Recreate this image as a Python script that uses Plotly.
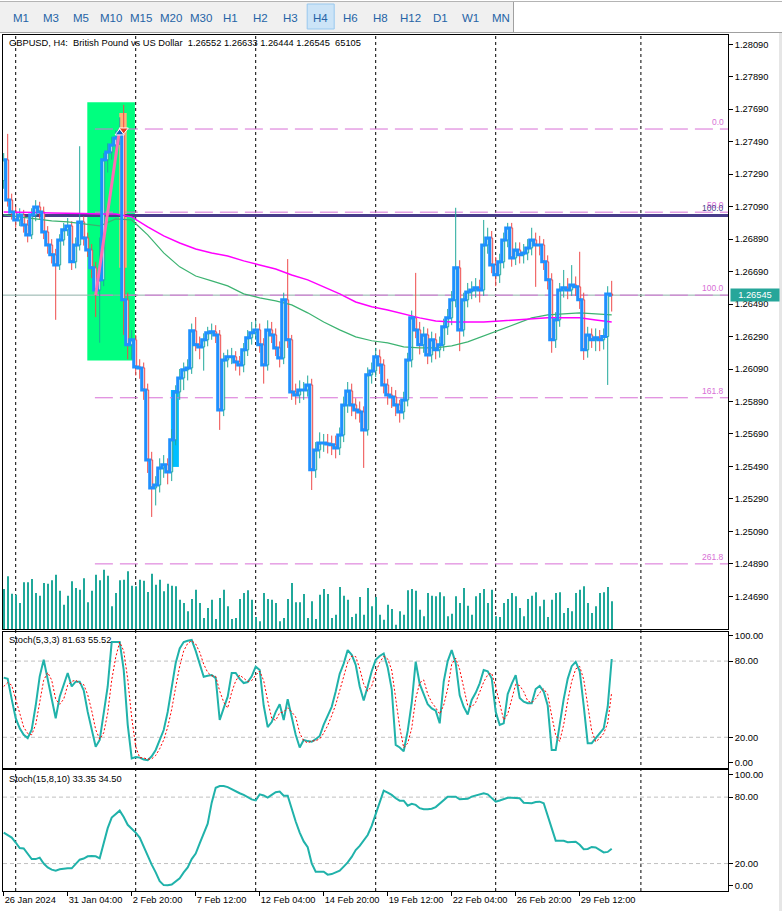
import plotly.graph_objects as go

# ---------------- data ----------------
symbol_title = "GBPUSD, H4:  British Pound vs US Dollar  1.26552 1.26633 1.26444 1.26545  65105"
stoch1_title = "Stoch(5,3,3) 81.63 55.52"
stoch2_title = "Stoch(15,8,10) 33.35 34.50"
timeframes = ["M1", "M3", "M5", "M10", "M15", "M20", "M30", "H1", "H2", "H3",
              "H4", "H6", "H8", "H12", "D1", "W1", "MN"]
active_tf = "H4"

open_ = [
    1.27250, 1.27378, 1.27131, 1.27057, 1.27008, 1.27039, 1.26977, 1.26916, 1.27039, 1.27088,
    1.27057, 1.26934, 1.26854, 1.26793, 1.26731, 1.26885, 1.26947, 1.26971, 1.26750, 1.26854,
    1.26996, 1.26897, 1.26823, 1.26713, 1.26577, 1.26639, 1.27378, 1.27427, 1.27470, 1.27513,
    1.27544, 1.26516, 1.26239, 1.26270, 1.26103, 1.26097, 1.25961, 1.25530, 1.25358, 1.25376,
    1.25481, 1.25500, 1.25456, 1.25654, 1.25949, 1.26035, 1.26085, 1.26097, 1.26325, 1.26239,
    1.26226, 1.26270, 1.26313, 1.26319, 1.26300, 1.25838, 1.26146, 1.26165, 1.26165, 1.26134,
    1.26115, 1.26208, 1.26282, 1.26313, 1.26331, 1.26239, 1.26115, 1.26331, 1.26300, 1.26220,
    1.26158, 1.26516, 1.26270, 1.25949, 1.25930, 1.25961, 1.25961, 1.25992, 1.25469, 1.25592,
    1.25635, 1.25635, 1.25629, 1.25623, 1.25604, 1.25684, 1.25869, 1.25955, 1.25869, 1.25838,
    1.25826, 1.25715, 1.26054, 1.26078, 1.26165, 1.26115, 1.25992, 1.25930, 1.25918, 1.25869,
    1.25826, 1.25900, 1.26146, 1.26405, 1.26331, 1.26239, 1.26300, 1.26177, 1.26270, 1.26208,
    1.26239, 1.26350, 1.26405, 1.26516, 1.26713, 1.26331, 1.26516, 1.26565, 1.26577, 1.26590,
    1.26577, 1.26854, 1.26897, 1.26731, 1.26670, 1.26750, 1.26885, 1.26959, 1.26774, 1.26823,
    1.26793, 1.26805, 1.26836, 1.26885, 1.26854, 1.26854, 1.26750, 1.26639, 1.26270, 1.26393,
    1.26577, 1.26590, 1.26577, 1.26608, 1.26596, 1.26516, 1.26208, 1.26300, 1.26270, 1.26282,
    1.26270, 1.26290, 1.26552]

high = [
    1.27420, 1.27538, 1.27170, 1.27090, 1.27080, 1.27070, 1.27010, 1.27080, 1.27130, 1.27120,
    1.27090, 1.26970, 1.26890, 1.26830, 1.26920, 1.26990, 1.27020, 1.27000, 1.26900, 1.27462,
    1.27030, 1.26930, 1.26860, 1.26750, 1.26900, 1.27420, 1.27480, 1.27520, 1.27560, 1.27640,
    1.27717, 1.26560, 1.26330, 1.26300, 1.26150, 1.26130, 1.26000, 1.25580, 1.25430, 1.25540,
    1.25560, 1.25540, 1.25720, 1.25990, 1.26090, 1.26130, 1.26150, 1.26370, 1.26410, 1.26290,
    1.26310, 1.26350, 1.26370, 1.26360, 1.26330, 1.26190, 1.26210, 1.26220, 1.26200, 1.26170,
    1.26250, 1.26330, 1.26380, 1.26390, 1.26370, 1.26280, 1.26390, 1.26380, 1.26340, 1.26260,
    1.26560, 1.26767, 1.26300, 1.26000, 1.26020, 1.26010, 1.26050, 1.26030, 1.25640, 1.25700,
    1.25690, 1.25690, 1.25680, 1.25680, 1.25730, 1.25920, 1.26010, 1.26000, 1.25910, 1.25890,
    1.25860, 1.26100, 1.26130, 1.26220, 1.26210, 1.26150, 1.26030, 1.25980, 1.25960, 1.25900,
    1.25950, 1.26190, 1.26450, 1.26682, 1.26380, 1.26350, 1.26340, 1.26320, 1.26310, 1.26290,
    1.26400, 1.26460, 1.26570, 1.27083, 1.26760, 1.26560, 1.26620, 1.26630, 1.26650, 1.26640,
    1.27008, 1.26960, 1.26940, 1.26780, 1.26800, 1.26930, 1.26990, 1.26990, 1.26870, 1.26870,
    1.26860, 1.26890, 1.26960, 1.26930, 1.26910, 1.26890, 1.26790, 1.26680, 1.26440, 1.26620,
    1.26700, 1.26650, 1.26730, 1.26660, 1.26812, 1.26560, 1.26350, 1.26340, 1.26340, 1.26330,
    1.26340, 1.26600, 1.26633]

low = [
    1.27200, 1.27090, 1.27010, 1.26960, 1.26970, 1.26930, 1.26870, 1.26890, 1.27000, 1.27010,
    1.26890, 1.26800, 1.26740, 1.26393, 1.26700, 1.26850, 1.26910, 1.26700, 1.26710, 1.26820,
    1.26850, 1.26780, 1.26650, 1.26410, 1.26252, 1.26600, 1.27300, 1.27380, 1.27420, 1.27470,
    1.26300, 1.26150, 1.26150, 1.26050, 1.26030, 1.25900, 1.25450, 1.25179, 1.25250, 1.25330,
    1.25420, 1.25380, 1.25400, 1.25620, 1.25900, 1.25960, 1.26020, 1.26060, 1.26200, 1.26150,
    1.26080, 1.26230, 1.26270, 1.26250, 1.25715, 1.25800, 1.26100, 1.26120, 1.26080, 1.26050,
    1.26070, 1.26170, 1.26240, 1.26270, 1.26190, 1.26000, 1.26080, 1.26250, 1.26170, 1.26100,
    1.26120, 1.26220, 1.25900, 1.25870, 1.25880, 1.25900, 1.25920, 1.25345, 1.25420, 1.25540,
    1.25580, 1.25570, 1.25560, 1.25540, 1.25560, 1.25640, 1.25820, 1.25800, 1.25780, 1.25760,
    1.25481, 1.25680, 1.26000, 1.26040, 1.26060, 1.25940, 1.25870, 1.25850, 1.25800, 1.25760,
    1.25780, 1.25860, 1.26100, 1.26280, 1.26180, 1.26190, 1.26120, 1.26130, 1.26150, 1.26160,
    1.26200, 1.26300, 1.26360, 1.26470, 1.26200, 1.26290, 1.26470, 1.26520, 1.26530, 1.26500,
    1.26540, 1.26800, 1.26680, 1.26600, 1.26620, 1.26710, 1.26840, 1.26720, 1.26730, 1.26740,
    1.26740, 1.26760, 1.26790, 1.26596, 1.26790, 1.26700, 1.26580, 1.26190, 1.26220, 1.26350,
    1.26530, 1.26520, 1.26540, 1.26540, 1.26460, 1.26146, 1.26160, 1.26220, 1.26200, 1.26200,
    1.26210, 1.25992, 1.26444]

close = [
    1.27378, 1.27131, 1.27057, 1.27008, 1.27039, 1.26977, 1.26916, 1.27039, 1.27088, 1.27057,
    1.26934, 1.26854, 1.26793, 1.26731, 1.26885, 1.26947, 1.26971, 1.26750, 1.26854, 1.26996,
    1.26897, 1.26823, 1.26713, 1.26577, 1.26639, 1.27378, 1.27427, 1.27470, 1.27513, 1.27544,
    1.26516, 1.26239, 1.26270, 1.26103, 1.26097, 1.25961, 1.25530, 1.25358, 1.25376, 1.25481,
    1.25500, 1.25456, 1.25654, 1.25949, 1.26035, 1.26085, 1.26097, 1.26325, 1.26239, 1.26226,
    1.26270, 1.26313, 1.26319, 1.26300, 1.25838, 1.26146, 1.26165, 1.26165, 1.26134, 1.26115,
    1.26208, 1.26282, 1.26313, 1.26331, 1.26239, 1.26115, 1.26331, 1.26300, 1.26220, 1.26158,
    1.26516, 1.26270, 1.25949, 1.25930, 1.25961, 1.25961, 1.25992, 1.25469, 1.25592, 1.25635,
    1.25635, 1.25629, 1.25623, 1.25604, 1.25684, 1.25869, 1.25955, 1.25869, 1.25838, 1.25826,
    1.25715, 1.26054, 1.26078, 1.26165, 1.26115, 1.25992, 1.25930, 1.25918, 1.25869, 1.25826,
    1.25900, 1.26146, 1.26405, 1.26331, 1.26239, 1.26300, 1.26177, 1.26270, 1.26208, 1.26239,
    1.26350, 1.26405, 1.26516, 1.26713, 1.26331, 1.26516, 1.26565, 1.26577, 1.26590, 1.26577,
    1.26854, 1.26897, 1.26731, 1.26670, 1.26750, 1.26885, 1.26959, 1.26774, 1.26823, 1.26793,
    1.26805, 1.26836, 1.26885, 1.26854, 1.26854, 1.26750, 1.26639, 1.26270, 1.26393, 1.26577,
    1.26590, 1.26577, 1.26608, 1.26596, 1.26516, 1.26208, 1.26300, 1.26270, 1.26282, 1.26270,
    1.26290, 1.26552, 1.26545]

volume_k = [
    94.0, 123.8, 83.0, 80.6, 61.1, 109.7, 109.7, 117.5, 84.6, 78.3,
    108.1, 106.5, 114.4, 127.6, 90.0, 57.1, 78.3, 112.1, 96.4, 92.4,
    119.1, 62.7, 90.0, 127.6, 114.4, 139.4, 125.3, 53.3, 84.6, 114.4,
    115.9, 135.6, 101.8, 100.3, 115.9, 113.5, 87.0, 130.0, 104.1, 115.9,
    88.6, 106.5, 101.8, 100.3, 68.9, 61.1, 41.6, 70.5, 92.4, 61.1,
    25.9, 49.4, 68.9, 23.5, 72.9, 92.4, 53.3, 23.5, 25.9, 70.5,
    84.6, 90.9, 68.9, 28.2, 18.1, 84.6, 70.5, 68.9, 61.1, 18.1,
    25.9, 70.5, 108.1, 62.7, 62.7, 82.3, 25.9, 65.1, 23.5, 80.6,
    94.0, 82.3, 25.9, 33.6, 98.7, 78.3, 68.9, 28.2, 36.0, 75.2,
    33.6, 96.4, 53.3, 75.2, 33.6, 21.9, 57.1, 47.0, 10.1, 41.6,
    33.6, 90.9, 94.0, 90.0, 45.4, 29.8, 84.6, 78.3, 76.8, 86.2,
    76.8, 29.8, 36.0, 76.8, 61.1, 96.4, 54.8, 33.6, 76.8, 84.6,
    94.0, 61.1, 92.4, 29.8, 28.2, 61.1, 70.5, 84.6, 76.8, 49.4,
    29.8, 70.5, 78.3, 86.2, 53.3, 68.9, 28.2, 68.9, 84.6, 86.2,
    37.6, 49.4, 41.6, 84.6, 92.4, 100.3, 61.1, 37.6, 53.3, 84.6,
    86.2, 98.7, 65.1]

# moving averages sampled every 4th bar
ma_bars = [0, 4, 8, 12, 16, 20, 24, 28, 32, 36, 40, 44, 48, 52, 56, 60, 64, 68, 72, 76,
           80, 84, 88, 92, 96, 100, 104, 108, 112, 116, 120, 124, 128, 132, 136, 140, 144, 148, 152]
ma_slow = [1.27057, 1.27057, 1.27054, 1.27051, 1.27051, 1.27048, 1.27045, 1.27045, 1.27027, 1.26965,
           1.26910, 1.26866, 1.26829, 1.26805, 1.26786, 1.26756, 1.26731, 1.26706, 1.26669, 1.26639,
           1.26596, 1.26553, 1.26503, 1.26473, 1.26454, 1.26429, 1.26405, 1.26386, 1.26380, 1.26380,
           1.26380, 1.26386, 1.26392, 1.26398, 1.26405, 1.26405, 1.26405, 1.26392, 1.26380]
ma_fast = [1.27039, 1.27027, 1.27014, 1.27002, 1.26996, 1.26983, 1.26971, 1.27014, 1.27008, 1.26916,
           1.26805, 1.26719, 1.26663, 1.26633, 1.26602, 1.26553, 1.26528, 1.26510, 1.26485, 1.26436,
           1.26380, 1.26331, 1.26288, 1.26264, 1.26251, 1.26226, 1.26220, 1.26220, 1.26233, 1.26257,
           1.26294, 1.26331, 1.26368, 1.26405, 1.26424, 1.26430, 1.26436, 1.26430, 1.26424]

stoch1_main = [
    67, 66, 50, 35, 27, 22, 19.4, 26, 45, 68,
    81, 65, 50, 35, 52, 62, 70.6, 60, 63.8, 63.8,
    57, 40, 25, 12.6, 17.9, 40, 60, 95, 95, 95,
    73, 30, 3.4, 4.5, 4, 2.5, 2, 5, 10, 18,
    25.7, 40, 60, 78.5, 90, 95, 96, 96.6, 88, 77,
    67.7, 68.5, 69, 66.6, 33.6, 43, 52, 70.6, 70.6, 66,
    62.7, 63.5, 68, 75.6, 73, 45, 28, 32, 40, 46,
    33.6, 50, 36, 22, 12, 17.9, 17, 16.5, 18.5, 21,
    30, 37, 44, 56, 70, 78, 88.7, 85, 77, 60,
    49, 60, 72, 81, 84, 86, 75, 58, 14, 12,
    9, 25, 47, 79.5, 62, 54, 46, 42.8, 41, 31,
    63.8, 80, 88.7, 78.3, 53, 44, 38, 49.4, 55, 62.5,
    73, 72, 66.5, 40, 29.7, 31, 54, 62, 69, 51,
    48, 46.8, 46.8, 58, 60.5, 56, 45, 10, 10, 30,
    50, 66, 76, 79.5, 72, 45, 15.3, 15.3, 19, 23,
    27, 44, 81.63]

stoch1_signal = [
    60, 63, 61, 50, 37, 28, 23, 22, 30, 46,
    65, 71, 65, 50, 46, 50, 61, 64, 65, 62.5,
    61.5, 53.5, 41, 26, 18.5, 23.5, 39, 65, 83, 95,
    88, 66, 35.5, 12.6, 4, 3.7, 2.8, 3, 5.7, 11,
    17.9, 28, 42, 59.5, 76, 88, 94, 96, 93.5, 87,
    77.6, 71, 68.4, 68, 56.4, 47.7, 43, 55.5, 64.4, 69,
    66.4, 64, 64.7, 69, 72.2, 64.5, 48.7, 35, 33.3, 39.3,
    39.9, 43.2, 39.9, 36, 23.3, 17.3, 15.6, 17.1, 17.3, 18.7,
    23.2, 29.3, 37, 45.7, 56.7, 68, 78.9, 83.9, 83.6, 74,
    62, 56.3, 60.3, 71, 79, 83.7, 81.7, 73, 49, 28,
    11.7, 15.3, 27, 50.5, 62.8, 65.2, 54, 47.6, 43.3, 38.3,
    45.3, 58.3, 77.5, 82.3, 73.3, 58.4, 45, 43.8, 47.5, 55.6,
    63.5, 69.2, 70.5, 59.5, 45.4, 33.6, 38.2, 49, 61.7, 60.7,
    56, 48.6, 47.2, 50.5, 55.1, 58.2, 53.8, 37, 21.7, 16.7,
    30, 48.7, 64, 73.8, 75.8, 65.5, 44.1, 25.2, 16.5, 19.1,
    23, 31.3, 55.52]

stoch2_main = [
    47.9, 46, 43.5, 39, 34, 33.6, 29, 24, 24, 25.3,
    20, 16.5, 14.5, 13.6, 14.8, 15.5, 15.7, 15.7, 20, 23.5,
    24.5, 26.5, 26.8, 26.5, 24.7, 38, 52, 61.5, 64.5, 67.8,
    62, 55, 51.5, 48, 43.5, 35, 27, 19, 12, 4,
    0.5, 0.3, 1, 3.5, 6.7, 12, 16.5, 24, 29, 38.3,
    47, 56, 75, 88.5, 90, 90, 89, 87, 85, 83.5,
    82, 80, 78, 77, 82.5, 81.5, 79.5, 82, 84.5, 85,
    81.3, 81.3, 68.4, 58, 48, 40, 34.7, 20.2, 12.6, 12.6,
    12.6, 10, 10.5, 12, 13.5, 17.2, 21, 26, 32.2, 36,
    40.5, 45.8, 54, 64, 75, 85.8, 84, 82, 79, 76.8,
    76.8, 72.3, 74, 73, 70, 69, 69, 69.5, 71, 74,
    77.5, 80.4, 80.4, 80.4, 78, 78, 78.5, 80.5, 81.5, 83,
    83.5, 82.5, 79, 75.9, 77, 78.5, 79.5, 79.5, 79.5, 79,
    75, 74.5, 74.5, 75.5, 75.9, 74.5, 63, 50, 40.7, 40.7,
    40.5, 39.2, 39.3, 39.7, 37, 33, 33.2, 35, 34.5, 32,
    30, 30.5, 33.35]

x_tick_bars = [0, 16, 32, 48, 64, 80, 96, 112, 128, 144]
x_tick_labels = ["26 Jan 2024", "31 Jan 04:00", "2 Feb 20:00", "7 Feb 12:00", "12 Feb 04:00",
                 "14 Feb 20:00", "19 Feb 12:00", "22 Feb 04:00", "26 Feb 20:00", "29 Feb 12:00"]
price_ticks = [1.24690, 1.24890, 1.25090, 1.25290, 1.25490, 1.25690, 1.25890, 1.26090, 1.26290,
               1.26490, 1.26690, 1.26890, 1.27090, 1.27290, 1.27490, 1.27690, 1.27890, 1.28090]
stoch_ticks = [0, 20, 80, 100]
stoch_tick_labels = ["0.00", "20.00", "80.00", "100.00"]
stoch_levels = [20, 80]
separator_bars = [3, 33, 63, 93, 123, 159.3]

fib_labels = ["0.0", "50.0", "100.0", "161.8", "261.8"]
fib_prices = [1.27568, 1.27056, 1.26545, 1.25913, 1.24890]
fib_start_bar = 22.8
fib_anchor_bars = [23, 29]
fib_anchor_prices = [1.26545, 1.27568]
hline_price = 1.27035
hline_label = "100.0"
bid_price = 1.26545

zone_green = dict(bars=[20.9, 32.8], prices=[1.26142, 1.27733])
zone_orange = dict(bars=[28.9, 30.75], prices=[1.26713, 1.27667])
zone_cyan = dict(bars=[41.8, 43.8], prices=[1.25487, 1.25961])
buy_signal = dict(bar=29, price=1.27544)
sell_signal = dict(bar=30, price=1.27562)

# ---------------- geometry ----------------
W, H = 782, 911
ML, MR, MT, MB = 3, 54, 35, 20
PW = W - ML - MR
PH = H - MT - MB


def pxx(px):
    return (px - ML) / PW


def pxy(py):
    return (H - MB - py) / PH


XR = [-0.175, 181.075]
FONT = "Liberation Sans"
FS = 9.3
TEAL = "#20A89A"
RED = "#EE4B4B"
ORCHID = "#D86FD6"

bars = list(range(len(close)))

fig = go.Figure()

fig.add_trace(go.Bar(x=bars, y=volume_k, width=0.22, marker=dict(color=TEAL, line=dict(width=0)),
                     xaxis="x", yaxis="y2", hoverinfo="skip"))
fig.add_trace(go.Candlestick(
    x=bars, open=open_, high=high, low=low, close=close,
    increasing=dict(line=dict(color=TEAL, width=1), fillcolor="white"),
    decreasing=dict(line=dict(color=RED, width=1), fillcolor="white"),
    whiskerwidth=0, xaxis="x", yaxis="y"))
fig.add_trace(go.Scatter(x=ma_bars, y=ma_fast, mode="lines", line=dict(color="#3CB371", width=1.2),
                         xaxis="x", yaxis="y"))
fig.add_trace(go.Scatter(x=ma_bars, y=ma_slow, mode="lines", line=dict(color="#FF00FF", width=1.5),
                         xaxis="x", yaxis="y"))
fig.add_trace(go.Scatter(x=bars, y=close, mode="lines", line=dict(color="#1E90FF", width=3, shape="hvh"),
                         xaxis="x", yaxis="y"))
fig.add_trace(go.Scatter(x=fib_anchor_bars, y=fib_anchor_prices, mode="lines",
                         line=dict(color="#FF6EB4", width=3), xaxis="x", yaxis="y"))
fig.add_trace(go.Scatter(x=[buy_signal["bar"]], y=[buy_signal["price"]], mode="markers",
                         marker=dict(symbol="triangle-up", size=8, color="#1560C0",
                                     line=dict(color="white", width=1)), xaxis="x", yaxis="y"))
fig.add_trace(go.Scatter(x=[sell_signal["bar"]], y=[sell_signal["price"]], mode="markers",
                         marker=dict(symbol="triangle-down", size=8, color="#E53A20",
                                     line=dict(color="white", width=1)), xaxis="x", yaxis="y"))
fig.add_trace(go.Scatter(x=bars, y=stoch1_main, mode="lines", line=dict(color="#20B2AA", width=2),
                         xaxis="x2", yaxis="y3"))
fig.add_trace(go.Scatter(x=bars, y=stoch1_signal, mode="lines",
                         line=dict(color="#FF0000", width=1, dash="2px,2px"), xaxis="x2", yaxis="y3"))
fig.add_trace(go.Scatter(x=bars, y=stoch2_main, mode="lines", line=dict(color="#20B2AA", width=2),
                         xaxis="x3", yaxis="y4"))

shapes = []
# toolbar
shapes.append(dict(type="rect", xref="paper", yref="paper", x0=pxx(0), x1=pxx(513), y0=pxy(2), y1=pxy(32),
                   fillcolor="#F0F0F0", line=dict(width=0), layer="below"))
shapes.append(dict(type="line", xref="paper", yref="paper", x0=pxx(0), x1=pxx(782), y0=pxy(1.5), y1=pxy(1.5),
                   line=dict(color="#B4B4B4", width=1)))
shapes.append(dict(type="line", xref="paper", yref="paper", x0=pxx(0), x1=pxx(782), y0=pxy(32.5), y1=pxy(32.5),
                   line=dict(color="#A0A0A0", width=1)))
shapes.append(dict(type="line", xref="paper", yref="paper", x0=pxx(513.5), x1=pxx(513.5), y0=pxy(2), y1=pxy(32),
                   line=dict(color="#A0A0A0", width=1)))
k_act = timeframes.index(active_tf)
shapes.append(dict(type="rect", xref="paper", yref="paper",
                   x0=pxx(20.7 + 30 * k_act - 13.5), x1=pxx(20.7 + 30 * k_act + 13.5),
                   y0=pxy(4), y1=pxy(29), fillcolor="#CCE4F7", line=dict(color="#99C9EF", width=1)))

for z, col in [(zone_green, "#00FF7F"), (zone_orange, "#FFB27A"), (zone_cyan, "#00BFFF")]:
    shapes.append(dict(type="rect", xref="x", yref="y", x0=z["bars"][0], x1=z["bars"][1],
                       y0=z["prices"][0], y1=z["prices"][1], fillcolor=col, line=dict(width=0), layer="below"))
for b in separator_bars:
    shapes.append(dict(type="line", xref="x", yref="paper", x0=b, x1=b, y0=0, y1=1,
                       line=dict(color="black", width=1, dash="3px,3px"), layer="below"))
shapes.append(dict(type="line", xref="x", yref="y", x0=XR[0], x1=XR[1], y0=bid_price, y1=bid_price,
                   line=dict(color="#8FB0A8", width=1), layer="below"))
for p in fib_prices:
    shapes.append(dict(type="line", xref="x", yref="y", x0=fib_start_bar, x1=XR[1], y0=p, y1=p,
                       line=dict(color=ORCHID, width=1, dash="18px,7px"), layer="below"))
shapes.append(dict(type="line", xref="x", yref="y", x0=XR[0], x1=XR[1], y0=hline_price, y1=hline_price,
                   line=dict(color="#483D8B", width=3), layer="below"))
for lv in stoch_levels:
    for yr in ["y3", "y4"]:
        shapes.append(dict(type="line", xref="x", yref=yr, x0=XR[0], x1=XR[1], y0=lv, y1=lv,
                           line=dict(color="#C0C0C0", width=1, dash="4px,3px"), layer="below"))
shapes.append(dict(type="rect", xref="paper", yref="paper", x0=pxx(779), x1=pxx(783), y0=pxy(912), y1=pxy(33),
                   fillcolor="#E6E6E6", line=dict(width=0), layer="below"))

ann = []
ann.append(dict(text=symbol_title, xref="paper", yref="paper", x=pxx(7), y=pxy(43), xanchor="left",
                yanchor="middle", showarrow=False, font=dict(size=FS, color="black", family=FONT)))
ann.append(dict(text=stoch1_title, xref="paper", yref="paper", x=pxx(7), y=pxy(640), xanchor="left",
                yanchor="middle", showarrow=False, font=dict(size=FS, color="black", family=FONT)))
ann.append(dict(text=stoch2_title, xref="paper", yref="paper", x=pxx(7), y=pxy(779), xanchor="left",
                yanchor="middle", showarrow=False, font=dict(size=FS, color="black", family=FONT)))
for lab, p in zip(fib_labels, fib_prices):
    ann.append(dict(text=lab, xref="paper", yref="y", x=pxx(726), y=p, xanchor="right", yanchor="bottom",
                    showarrow=False, font=dict(size=8.5, color=ORCHID, family=FONT)))
ann.append(dict(text=hline_label, xref="paper", yref="y", x=pxx(726), y=hline_price, xanchor="right",
                yanchor="bottom", yshift=1, showarrow=False, font=dict(size=8.5, color="#483D8B", family=FONT)))
ann.append(dict(text="%.5f" % bid_price, xref="paper", yref="y", x=pxx(730), y=bid_price, xanchor="left",
                yanchor="middle", showarrow=False, bgcolor="#26A69A", width=46, height=10, borderpad=1,
                font=dict(size=FS, color="white", family=FONT)))
for k, tf in enumerate(timeframes):
    ann.append(dict(text=tf, xref="paper", yref="paper", x=pxx(20.7 + 30 * k), y=pxy(17.5), xanchor="center",
                    yanchor="middle", showarrow=False, font=dict(size=11.5, color="#2563A6", family=FONT)))

axis_common = dict(showline=True, linecolor="black", linewidth=1, mirror=True, showgrid=False,
                   zeroline=False, automargin=False)
tickfont = dict(size=FS, family=FONT, color="black")

fig.update_layout(
    width=W, height=H, margin=dict(l=ML, r=MR, t=MT, b=MB, autoexpand=False),
    paper_bgcolor="white", plot_bgcolor="white", showlegend=False,
    font=dict(family=FONT, size=FS, color="black"),
    shapes=shapes, annotations=ann,
    xaxis=dict(domain=[0, 1], range=XR, anchor="y", showticklabels=False, ticks="",
               rangeslider=dict(visible=False), **axis_common),
    xaxis2=dict(domain=[0, 1], range=XR, anchor="y3", matches="x", showticklabels=False, ticks="",
                **axis_common),
    xaxis3=dict(domain=[0, 1], range=XR, anchor="y4", matches="x", tickmode="array",
                tickvals=x_tick_bars, ticktext=x_tick_labels, ticks="outside", ticklen=4, tickcolor="black",
                tickangle=0, ticklabelposition="outside right", tickfont=tickfont, **axis_common),
    yaxis=dict(domain=[pxy(629), 1], range=[1.24489, 1.28147], anchor="x", side="right",
               tickmode="array", tickvals=price_ticks, ticktext=["%.5f" % v for v in price_ticks],
               ticks="outside", ticklen=4, tickcolor="black", tickfont=tickfont, **axis_common),
    yaxis2=dict(overlaying="y", anchor="x", range=[0, 1396], visible=False),
    yaxis3=dict(domain=[pxy(767.5), pxy(631.5)], range=[-3.8, 103.3], anchor="x2", side="right",
                tickmode="array", tickvals=stoch_ticks, ticktext=stoch_tick_labels,
                ticks="outside", ticklen=4, tickcolor="black", tickfont=tickfont, **axis_common),
    yaxis4=dict(domain=[0, pxy(770)], range=[-4.8, 104.5], anchor="x3", side="right",
                tickmode="array", tickvals=stoch_ticks, ticktext=stoch_tick_labels,
                ticks="outside", ticklen=4, tickcolor="black", tickfont=tickfont, **axis_common),
)

fig.write_html("out.html", config={"displayModeBar": False},
               post_script="document.body.style.margin='0';document.body.style.overflow='hidden';")
